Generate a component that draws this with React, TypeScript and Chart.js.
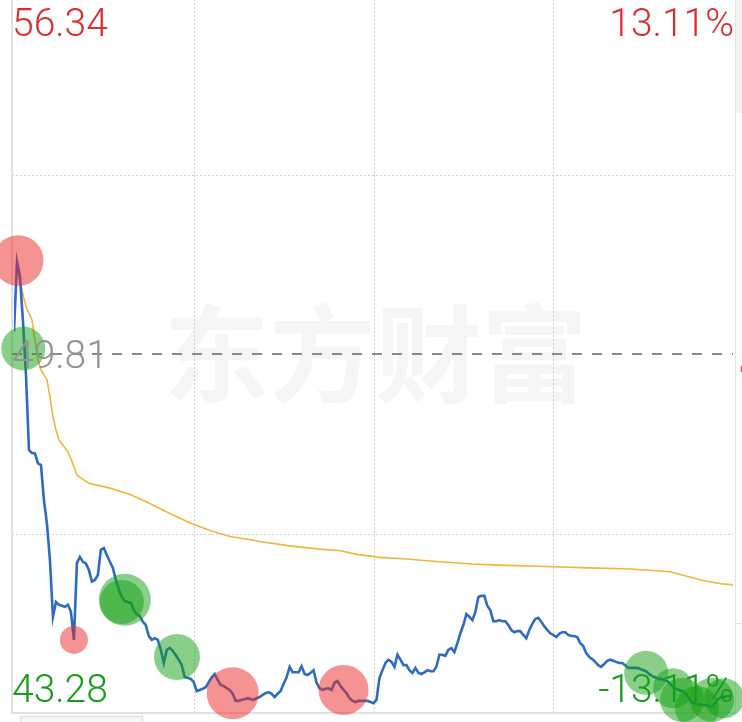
import React, { useEffect, useRef } from "react";
import { Chart, registerables } from "chart.js";

Chart.register(...registerables);

// ---------- data ----------
const PREV_CLOSE = 49.81;
const PRICE_HIGH = 56.34;
const PRICE_LOW = 43.28;
const PRICE_HIGH_LABEL = "56.34";
const PRICE_LOW_LABEL = "43.28";
const PREV_CLOSE_LABEL = "49.81";
const PCT_HIGH_LABEL = "13.11%";
const PCT_LOW_LABEL = "-13.11%";
const SESSION_MINUTES = 240;
const GRID_MINUTES = [60, 120, 180];
const WATERMARK = "东方财富";

// one value per minute (0..239)
const priceValues = [
  50.22, 51.49, 51.22, 50.40, 49.43, 48.06, 48.01, 48.00, 47.82, 47.79,
  47.15, 46.72, 46.06, 45.03, 45.30, 45.25, 45.23, 45.21, 45.25, 45.12,
  44.61, 46.01, 46.12, 46.03, 46.00, 45.88, 45.67, 45.70, 45.79, 46.25,
  46.28, 46.15, 46.03, 45.92, 45.70, 45.52, 45.39, 45.31, 45.30, 45.28,
  45.15, 45.08, 45.04, 44.94, 44.88, 44.68, 44.61, 44.64, 44.61, 44.43,
  44.19, 44.43, 44.46, 44.41, 44.33, 44.25, 44.15, 43.93, 43.92, 43.90,
  43.84, 43.68, 43.70, 43.72, 43.75, 43.84, 43.93, 43.99, 43.88, 43.79,
  43.77, 43.73, 43.70, 43.63, 43.50, 43.50, 43.52, 43.53, 43.55, 43.53,
  43.52, 43.55, 43.57, 43.61, 43.64, 43.66, 43.63, 43.57, 43.63, 43.68,
  43.81, 43.93, 44.12, 44.02, 44.02, 44.02, 44.13, 43.99, 43.97, 44.01,
  44.06, 43.83, 43.73, 43.70, 43.72, 43.73, 43.70, 43.83, 43.86, 43.77,
  43.70, 43.64, 43.55, 43.50, 43.48, 43.50, 43.50, 43.50, 43.50, 43.48,
  43.46, 43.52, 43.92, 44.06, 44.19, 44.25, 44.21, 44.12, 44.34, 44.25,
  44.15, 44.15, 44.06, 44.01, 44.10, 44.01, 43.99, 44.02, 44.06, 44.04,
  44.04, 44.12, 44.34, 44.34, 44.32, 44.43, 44.46, 44.39, 44.55, 44.73,
  44.88, 45.08, 45.03, 44.97, 45.12, 45.39, 45.41, 45.41, 45.23, 45.15,
  44.95, 44.95, 44.97, 44.95, 44.95, 44.88, 44.79, 44.75, 44.77, 44.77,
  44.70, 44.64, 44.79, 44.90, 44.99, 45.01, 44.94, 44.86, 44.79, 44.73,
  44.70, 44.66, 44.72, 44.75, 44.75, 44.70, 44.68, 44.68, 44.66, 44.55,
  44.50, 44.37, 44.30, 44.26, 44.21, 44.15, 44.12, 44.17, 44.23, 44.25,
  44.23, 44.21, 44.19, 44.19, 44.15, 44.10, 44.10, 44.10, 44.10, 44.08,
  44.06, 44.04, 43.99, 43.95, 43.93, 43.90, 43.90, 43.88, 43.86, 43.81,
  43.75, 43.72, 43.70, 43.68, 43.64, 43.57, 43.48, 43.46, 43.44, 43.44,
  43.42, 43.42, 43.41, 43.39, 43.46, 43.53, 43.57, 43.57, 43.59, 43.59,
];

// average price line, read at these minutes
const avgMinutes = [
  1, 4, 6, 7, 8, 9, 11, 12, 13, 14, 15, 18, 19, 20, 21, 23, 25, 32, 39, 45,
  52, 59, 65, 72, 79, 82, 92, 102, 109, 114, 122, 131, 142, 153, 162, 180,
  192, 206, 219, 223, 230, 236, 240,
];
const avgValues = [
  51.35, 50.67, 50.43, 50.06, 49.70, 49.52, 49.34, 49.03, 48.67, 48.43,
  48.25, 48.03, 47.91, 47.76, 47.61, 47.53, 47.46, 47.37, 47.25, 47.10,
  46.91, 46.73, 46.61, 46.49, 46.43, 46.40, 46.32, 46.26, 46.23, 46.17,
  46.11, 46.08, 46.03, 45.99, 45.97, 45.94, 45.92, 45.90, 45.85, 45.79,
  45.69, 45.63, 45.61,
];

// large buy orders (red) and large sell orders (green)
const bigBuyMinutes = [1.4, 20, 73, 110];
const bigBuyPrices = [51.51, 44.61, 43.64, 43.70];
const bigBuyVolumes = [640, 196, 676, 625];

const bigSellMinutes = [3.1, 36, 37, 54.4, 211, 220, 223, 228, 233, 237];
const bigSellPrices = [49.91, 45.30, 45.34, 44.30, 44.01, 43.73, 43.52, 43.37, 43.52, 43.55];
const bigSellVolumes = [484, 484, 676, 529, 484, 400, 484, 484, 484, 400];

// ---------- chart ----------
const W = 742;
const H = 727;
const TOP_OFFSET = -5;

const decorPlugin = {
  id: "decor",
  beforeDatasetsDraw(chart: any) {
    const { ctx, chartArea: a, scales } = chart;
    const x = scales.x;
    const y = scales.y;
    const midY = y.getPixelForValue(PREV_CLOSE);
    ctx.save();
    // watermark
    ctx.fillStyle = "#f5f5f5";
    ctx.font = "bold 106px 'Noto Sans CJK SC'";
    ctx.textAlign = "center";
    ctx.textBaseline = "middle";
    ctx.fillText(WATERMARK, (a.left + a.right) / 2 + 2, midY);

    // dotted grid
    ctx.strokeStyle = "#cdcdcd";
    ctx.lineWidth = 1;
    ctx.setLineDash([2, 2]);
    GRID_MINUTES.forEach((m) => {
      const px = Math.round(x.getPixelForValue(m)) + 0.5;
      ctx.beginPath();
      ctx.moveTo(px, a.top);
      ctx.lineTo(px, a.bottom);
      ctx.stroke();
    });
    [0.25, 0.75].forEach((q) => {
      const v = PRICE_LOW + (PRICE_HIGH - PRICE_LOW) * q;
      const py = Math.round(y.getPixelForValue(v)) + 0.5;
      ctx.beginPath();
      ctx.moveTo(a.left - 2, py);
      ctx.lineTo(a.right, py);
      ctx.stroke();
    });

    // borders
    ctx.setLineDash([]);
    ctx.strokeStyle = "#e0e0e0";
    ctx.lineWidth = 2;
    ctx.beginPath();
    ctx.moveTo(a.left - 2, 0);
    ctx.lineTo(a.left - 2, a.bottom);
    ctx.lineTo(a.right + 2, a.bottom);
    ctx.stroke();
    ctx.lineWidth = 1;
    ctx.strokeStyle = "#e4e4e4";
    ctx.beginPath();
    ctx.moveTo(a.right + 2.5, 0);
    ctx.lineTo(a.right + 2.5, a.bottom);
    ctx.stroke();

    // previous close dashed line
    ctx.strokeStyle = "#8a8a8a";
    ctx.lineWidth = 2;
    ctx.setLineDash([10, 10]);
    ctx.beginPath();
    ctx.moveTo(a.left - 2, Math.round(midY));
    ctx.lineTo(a.right, Math.round(midY));
    ctx.stroke();
    ctx.restore();
  },
  afterDatasetsDraw(chart: any) {
    const { ctx, chartArea: a, scales } = chart;
    const y = scales.y;
    const midY = y.getPixelForValue(PREV_CLOSE);
    ctx.save();
    ctx.font = "300 39px Roboto";
    ctx.textBaseline = "alphabetic";
    const topBase = a.top + 41;
    const botBase = a.bottom - 11;
    ctx.fillStyle = "#dd2b2b";
    ctx.textAlign = "left";
    ctx.fillText(PRICE_HIGH_LABEL, a.left - 2, topBase);
    ctx.textAlign = "right";
    ctx.fillText(PCT_HIGH_LABEL, a.right + 1, topBase);
    ctx.fillStyle = "#939393";
    ctx.textAlign = "left";
    ctx.fillText(PREV_CLOSE_LABEL, a.left - 2, midY + 14);
    ctx.fillStyle = "#169c16";
    ctx.fillText(PRICE_LOW_LABEL, a.left - 2, botBase);
    ctx.textAlign = "right";
    ctx.fillText(PCT_LOW_LABEL, a.right + 1, botBase);

    // page chrome around the chart
    ctx.fillStyle = "#f3f3f3";
    ctx.fillRect(a.right + 3, 0, 10, 118);
    ctx.strokeStyle = "#e4e4e4";
    ctx.lineWidth = 1;
    ctx.beginPath();
    ctx.moveTo(a.right + 2, 628.5);
    ctx.lineTo(W, 628.5);
    ctx.stroke();
    ctx.strokeStyle = "#e05050";
    ctx.lineWidth = 1.5;
    ctx.beginPath();
    ctx.moveTo(741.5, 371);
    ctx.lineTo(741.5, 377);
    ctx.stroke();
    ctx.fillStyle = "#f6f6f6";
    ctx.strokeStyle = "#e2e2e2";
    ctx.beginPath();
    ctx.rect(20.5, H - 5.5, 122, 10);
    ctx.fill();
    ctx.stroke();
    ctx.restore();
  },
};

export default function App() {
  const ref = useRef<HTMLCanvasElement | null>(null);

  useEffect(() => {
    if (!ref.current) return;
    const priceData = priceValues.map((v, i) => ({ x: i, y: v }));
    const avgData = avgMinutes.map((m, i) => ({ x: m, y: avgValues[i] }));
    const buyData = bigBuyMinutes.map((m, i) => ({
      x: m,
      y: bigBuyPrices[i],
      r: Math.sqrt(bigBuyVolumes[i]),
    }));
    const sellData = bigSellMinutes.map((m, i) => ({
      x: m,
      y: bigSellPrices[i],
      r: Math.sqrt(bigSellVolumes[i]),
    }));

    const chart = new Chart(ref.current, {
      type: "line",
      data: {
        datasets: [
          {
            type: "bubble",
            data: buyData,
            backgroundColor: "rgba(236,40,40,0.5)",
            borderWidth: 0,
            clip: false,
            order: 0,
          } as any,
          {
            type: "bubble",
            data: sellData,
            backgroundColor: "rgba(20,160,20,0.5)",
            borderWidth: 0,
            clip: false,
            order: 0,
          } as any,
          {
            type: "line",
            data: priceData,
            borderColor: "#2d6cbf",
            borderWidth: 2.6,
            pointRadius: 0,
            tension: 0,
            order: 1,
          },
          {
            type: "line",
            data: avgData,
            borderColor: "#f3b43a",
            borderWidth: 1.6,
            pointRadius: 0,
            tension: 0,
            order: 2,
          },
        ],
      },
      options: {
        responsive: false,
        animation: false,
        devicePixelRatio: 1,
        layout: { autoPadding: false, padding: { left: 14, right: 9, top: 0, bottom: 9 } },
        plugins: {
          legend: { display: false },
          tooltip: { enabled: false },
        },
        events: [],
        scales: {
          x: { type: "linear", min: 0, max: SESSION_MINUTES, display: false },
          y: { type: "linear", min: PRICE_LOW, max: PRICE_HIGH, display: false },
        },
      },
      plugins: [decorPlugin],
    });
    return () => chart.destroy();
  }, []);

  return (
    <div style={{ position: "fixed", left: 0, top: TOP_OFFSET, width: W, height: H, background: "#fff" }}>
      <canvas ref={ref} width={W} height={H} style={{ display: "block", width: W, height: H }} />
    </div>
  );
}
